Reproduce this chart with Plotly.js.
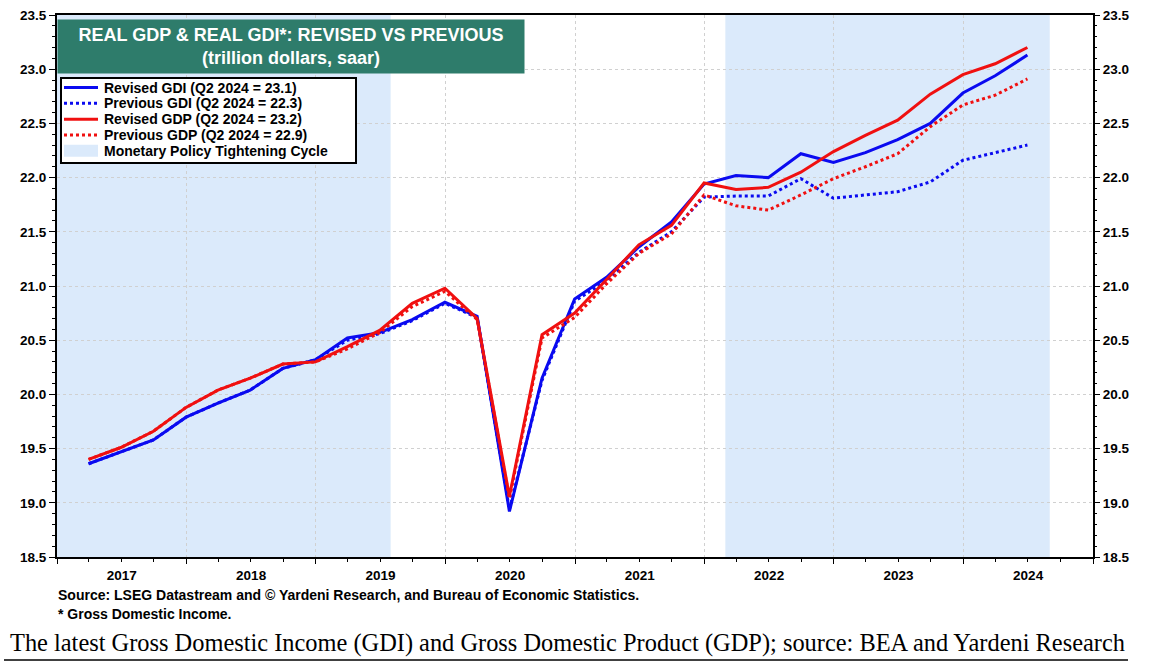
<!DOCTYPE html>
<html>
<head>
<meta charset="utf-8">
<script src="https://cdn.plot.ly/plotly-3.0.1.min.js"></script>
<style>html,body{margin:0;padding:0;background:#fff;}#chart{width:1157px;height:665px;}</style>
</head>
<body>
<div id="chart"></div>
<script>
// Quarterly observations (plotted at quarter end)
const quarters = [
  '2017-03-31','2017-06-30','2017-09-30','2017-12-31',
  '2018-03-31','2018-06-30','2018-09-30','2018-12-31',
  '2019-03-31','2019-06-30','2019-09-30','2019-12-31',
  '2020-03-31','2020-06-30','2020-09-30','2020-12-31',
  '2021-03-31','2021-06-30','2021-09-30','2021-12-31',
  '2022-03-31','2022-06-30','2022-09-30','2022-12-31',
  '2023-03-31','2023-06-30','2023-09-30','2023-12-31',
  '2024-03-31','2024-06-30'
];
const revisedGDI = [
  19.36, 19.47, 19.58, 19.79,
  19.92, 20.04, 20.24, 20.32,
  20.52, 20.57, 20.69, 20.85,
  20.72, 18.92, 20.15, 20.88,
  21.08, 21.36, 21.59, 21.94,
  22.02, 22.00, 22.22, 22.14,
  22.23, 22.35, 22.50, 22.78,
  22.94, 23.13
];
const previousGDI = [
  19.36, 19.47, 19.58, 19.79,
  19.92, 20.04, 20.24, 20.32,
  20.50, 20.56, 20.68, 20.84,
  20.71, 18.94, 20.13, 20.86,
  21.05, 21.31, 21.50, 21.82,
  21.83, 21.83, 21.99, 21.81,
  21.84, 21.87, 21.96, 22.16,
  22.23, 22.30
];
const revisedGDP = [
  19.40, 19.51, 19.66, 19.88,
  20.04, 20.15, 20.28, 20.30,
  20.44, 20.59, 20.84, 20.98,
  20.70, 19.06, 20.55, 20.75,
  21.06, 21.38, 21.56, 21.95,
  21.89, 21.91, 22.05, 22.24,
  22.39, 22.53, 22.77, 22.95,
  23.05, 23.20
];
const previousGDP = [
  19.40, 19.51, 19.66, 19.88,
  20.04, 20.15, 20.28, 20.30,
  20.42, 20.57, 20.81, 20.95,
  20.69, 19.04, 20.52, 20.71,
  21.02, 21.30, 21.48, 21.84,
  21.74, 21.70, 21.84, 21.99,
  22.10, 22.22, 22.47, 22.67,
  22.76, 22.91
];
const seriesNames = [
  'Revised GDI (Q2 2024 = 23.1)',
  'Previous GDI (Q2 2024 = 22.3)',
  'Revised GDP (Q2 2024 = 23.2)',
  'Previous GDP (Q2 2024 = 22.9)'
];
const tighteningStart = ['2015-12-16', '2022-03-01'];
const tighteningEnd   = ['2019-07-31', '2024-09-01'];
const tighteningName = 'Monetary Policy Tightening Cycle';

const BLUE = '#0a0af0';
const RED = '#f01010';
const SHADE = '#dbeafb';
const FONT = 'Liberation Sans, Arial, sans-serif';

const W = 1157, H = 665;
const M = {l: 57, r: 64, t: 15, b: 108};
const PW = W - M.l - M.r, PH = H - M.t - M.b;
// pixel -> paper helpers for layout decorations
const px = x => (x - M.l) / PW;
const py = y => 1 - (y - M.t) / PH;

const seriesValues = [revisedGDI, previousGDI, revisedGDP, previousGDP];
const seriesColors = [BLUE, BLUE, RED, RED];
const seriesDash = ['solid', 'dot', 'solid', 'dot'];

const traces = seriesValues.map((vals, i) => ({
  type: 'scatter', mode: 'lines',
  x: quarters, y: vals, name: seriesNames[i],
  line: {color: seriesColors[i], width: 3, dash: seriesDash[i]},
  showlegend: false, hoverinfo: 'x+y'
}));
// invisible carrier for the right-hand axis
traces.push({type: 'scatter', mode: 'lines', x: [quarters[0]], y: [null], yaxis: 'y2', showlegend: false, hoverinfo: 'skip'});

const shapes = tighteningStart.map((s, i) => ({
  type: 'rect', xref: 'x', yref: 'paper', x0: s, x1: tighteningEnd[i], y0: 0, y1: 1,
  fillcolor: SHADE, line: {width: 0}, layer: 'below'
}));

// ---- legend box (drawn as layout decorations) ----
const LG = {x0: 61, x1: 356, y0: 78, y1: 163, rows: [87.5, 103.3, 119.2, 135, 150.8], sx0: 64, sx1: 98, tx: 102};
shapes.push({type: 'rect', xref: 'paper', yref: 'paper', x0: px(LG.x0), x1: px(LG.x1), y0: py(LG.y0), y1: py(LG.y1),
  fillcolor: '#fff', line: {color: '#000', width: 2}, layer: 'above'});
const annotations = [];
seriesNames.forEach((name, i) => {
  shapes.push({type: 'line', xref: 'paper', yref: 'paper', x0: px(LG.sx0), x1: px(LG.sx1), y0: py(LG.rows[i]), y1: py(LG.rows[i]),
    line: {color: seriesColors[i], width: 3, dash: seriesDash[i]}, layer: 'above'});
  annotations.push({xref: 'paper', yref: 'paper', x: px(LG.tx), y: py(LG.rows[i]), xanchor: 'left', yanchor: 'middle',
    text: '<b>' + name + '</b>', showarrow: false, font: {family: FONT, size: 14, color: '#000'}});
});
shapes.push({type: 'rect', xref: 'paper', yref: 'paper', x0: px(LG.sx0), x1: px(LG.sx1), y0: py(LG.rows[4] - 6), y1: py(LG.rows[4] + 6),
  fillcolor: SHADE, line: {width: 0}, layer: 'above'});
annotations.push({xref: 'paper', yref: 'paper', x: px(LG.tx), y: py(LG.rows[4]), xanchor: 'left', yanchor: 'middle',
  text: '<b>' + tighteningName + '</b>', showarrow: false, font: {family: FONT, size: 14, color: '#000'}});

// caption underline
shapes.push({type: 'line', xref: 'paper', yref: 'paper', x0: px(4), x1: px(1128), y0: py(660), y1: py(660),
  line: {color: '#000', width: 1.5}});

const tickFont = {family: FONT, size: 13.5, color: '#000', weight: 'bold'};
const yCommon = {
  range: [18.5, 23.5], dtick: 0.5, tick0: 18.5, tickformat: '.1f',
  ticks: 'outside', ticklen: 6, tickwidth: 1, tickcolor: '#000',
  minor: {dtick: 0.1, ticks: 'outside', ticklen: 3, tickcolor: '#000', tickwidth: 1, showgrid: false},
  tickfont: tickFont, zeroline: false, fixedrange: true
};

annotations.push(
  {
    xref: 'paper', yref: 'paper', x: px(57), y: py(19), xanchor: 'left', yanchor: 'top',
    text: '<b>REAL GDP &amp; REAL GDI*: REVISED VS PREVIOUS</b><br><b>(trillion dollars, saar)</b>',
    showarrow: false, align: 'center', width: 466, height: 53,
    bgcolor: '#2e7c6b', borderpad: 0,
    font: {family: FONT, size: 18, color: '#fff'}
  },
  {
    xref: 'paper', yref: 'paper', x: px(56), y: py(595), xanchor: 'left', yanchor: 'middle',
    text: '<b>Source: LSEG Datastream and © Yardeni Research, and Bureau of Economic Statistics.</b>',
    showarrow: false, font: {family: FONT, size: 14, color: '#000'}
  },
  {
    xref: 'paper', yref: 'paper', x: px(56), y: py(614), xanchor: 'left', yanchor: 'middle',
    text: '<b>* Gross Domestic Income.</b>',
    showarrow: false, font: {family: FONT, size: 14, color: '#000'}
  },
  {
    xref: 'paper', yref: 'paper', x: px(8), y: py(643), xanchor: 'left', yanchor: 'middle',
    text: 'The latest Gross Domestic Income (GDI) and Gross Domestic Product (GDP); source: BEA and Yardeni Research',
    showarrow: false, font: {family: 'Liberation Serif, Times New Roman, serif', size: 24.4, color: '#000'}
  }
);

const layout = {
  width: W, height: H,
  margin: M,
  paper_bgcolor: '#fff', plot_bgcolor: '#fff',
  font: {family: FONT, color: '#000'},
  showlegend: false,
  xaxis: {
    type: 'date', range: ['2017-01-01', '2025-01-01'],
    tickmode: 'linear', tick0: '2017-01-01', dtick: 'M12',
    ticklabelmode: 'period', tickformat: '%Y',
    ticks: 'outside', ticklen: 5, tickwidth: 1, tickcolor: '#000',
    minor: {dtick: 'M3', ticks: 'outside', ticklen: 3, tickcolor: '#000', tickwidth: 1, showgrid: false},
    showline: true, linecolor: '#000', linewidth: 2, mirror: true,
    showgrid: true, gridcolor: '#d0d0d0', griddash: 'dot', gridwidth: 1,
    tickfont: tickFont, zeroline: false, fixedrange: true
  },
  yaxis: Object.assign({}, yCommon, {
    side: 'left', showline: true, linecolor: '#000', linewidth: 2, mirror: true,
    showgrid: true, gridcolor: '#d0d0d0', griddash: 'dot', gridwidth: 1
  }),
  yaxis2: Object.assign({}, yCommon, {
    overlaying: 'y', side: 'right', showgrid: false, showline: false
  }),
  shapes: shapes,
  annotations: annotations
};

Plotly.newPlot('chart', traces, layout, {displayModeBar: false, staticPlot: true});
</script>
</body>
</html>
